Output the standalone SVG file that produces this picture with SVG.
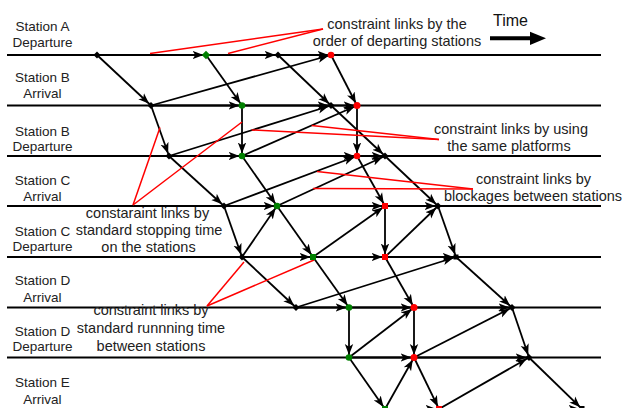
<svg xmlns="http://www.w3.org/2000/svg" width="624" height="408" viewBox="0 0 624 408">
<defs>
<style>
.st{font-family:"Liberation Sans",Arial,sans-serif;font-size:13.5px;fill:#222;text-anchor:middle}
.an{font-family:"Liberation Sans",Arial,sans-serif;font-size:14.5px;fill:#222;text-anchor:middle}
.ln{stroke:#000;stroke-width:2}
.e{stroke:#000;stroke-width:1.8;fill:none;marker-end:url(#ah)}
.r{stroke:#ff0000;stroke-width:1.5;fill:none}
.k{fill:#000}
.g{fill:#008000}
.d{fill:#ff0000}
</style>
<marker id="ah" markerUnits="userSpaceOnUse" markerWidth="14" markerHeight="10" viewBox="0 0 14 10" refX="13.5" refY="5" orient="auto">
<path d="M0,0.8 L11,5 L0,9.2 L2.8,5 z" fill="#000"/>
</marker>
</defs>
<rect width="624" height="408" fill="#fff"/>

<g id="station-lines">
<line class="ln" x1="7" y1="55" x2="601" y2="55"/>
<line class="ln" x1="7" y1="105.5" x2="601" y2="105.5"/>
<line class="ln" x1="7" y1="156" x2="601" y2="156"/>
<line class="ln" x1="7" y1="206" x2="601" y2="206"/>
<line class="ln" x1="7" y1="257" x2="601" y2="257"/>
<line class="ln" x1="7" y1="307.5" x2="601" y2="307.5"/>
<line class="ln" x1="7" y1="357.5" x2="601" y2="357.5"/>
<line class="ln" x1="7" y1="409" x2="601" y2="409"/>
</g>

<g id="station-labels">
<text class="st" x="42.5" y="30.5">Station A</text><text class="st" x="42.5" y="47.3">Departure</text>
<text class="st" x="42.5" y="81.7">Station B</text><text class="st" x="42.5" y="97.5">Arrival</text>
<text class="st" x="42.5" y="135.7">Station B</text><text class="st" x="42.5" y="151">Departure</text>
<text class="st" x="42.5" y="185">Station C</text><text class="st" x="42.5" y="200.5">Arrival</text>
<text class="st" x="42.5" y="235.5">Station C</text><text class="st" x="42.5" y="251">Departure</text>
<text class="st" x="42.5" y="285">Station D</text><text class="st" x="42.5" y="302">Arrival</text>
<text class="st" x="42.5" y="336">Station D</text><text class="st" x="42.5" y="351">Departure</text>
<text class="st" x="42.5" y="386.5">Station E</text><text class="st" x="42.5" y="403.5">Arrival</text>
</g>

<g id="connectors">
<!-- horizontal order arrows -->
<line class="e" x1="97" y1="55" x2="206" y2="55"/>
<line class="e" x1="206" y1="55" x2="278" y2="55"/>
<line class="e" x1="278" y1="55" x2="331" y2="55"/>
<line class="e" x1="151" y1="105.5" x2="242" y2="105.5"/>
<line class="e" x1="242" y1="105.5" x2="331" y2="105.5"/>
<line class="e" x1="331" y1="105.5" x2="357" y2="105.5"/>
<line class="e" x1="169" y1="156" x2="242" y2="156"/>
<line class="e" x1="242" y1="156" x2="357" y2="156"/>
<line class="e" x1="357" y1="156" x2="385" y2="156"/>
<line class="e" x1="224" y1="206" x2="277" y2="206"/>
<line class="e" x1="277" y1="206" x2="385" y2="206"/>
<line class="e" x1="385" y1="206" x2="438" y2="206"/>
<line class="e" x1="242" y1="257" x2="313" y2="257"/>
<line class="e" x1="313" y1="257" x2="385" y2="257"/>
<line class="e" x1="385" y1="257" x2="456" y2="257"/>
<line class="e" x1="296" y1="307.5" x2="349" y2="307.5"/>
<line class="e" x1="349" y1="307.5" x2="414" y2="307.5"/>
<line class="e" x1="414" y1="307.5" x2="512" y2="307.5"/>
<line class="e" x1="349" y1="357.5" x2="414" y2="357.5"/>
<line class="e" x1="414" y1="357.5" x2="529" y2="357.5"/>
<line class="e" x1="385" y1="409" x2="439" y2="409"/>
<line class="e" x1="439" y1="409" x2="582" y2="409"/>
<!-- train 1 -->
<line class="e" x1="97" y1="55" x2="151" y2="105.5"/>
<line class="e" x1="151" y1="105.5" x2="169" y2="156"/>
<line class="e" x1="169" y1="156" x2="224" y2="206"/>
<line class="e" x1="224" y1="206" x2="242" y2="257"/>
<line class="e" x1="242" y1="257" x2="296" y2="307.5"/>
<!-- train 2 -->
<line class="e" x1="206" y1="55" x2="242" y2="105.5"/>
<line class="e" x1="242" y1="105.5" x2="242" y2="156"/>
<line class="e" x1="242" y1="156" x2="277" y2="206"/>
<line class="e" x1="277" y1="206" x2="313" y2="257"/>
<line class="e" x1="313" y1="257" x2="349" y2="307.5"/>
<line class="e" x1="349" y1="307.5" x2="349" y2="357.5"/>
<line class="e" x1="349" y1="357.5" x2="385" y2="409"/>
<!-- train 3 -->
<line class="e" x1="331" y1="55" x2="357" y2="105.5"/>
<line class="e" x1="357" y1="105.5" x2="357" y2="156"/>
<line class="e" x1="357" y1="156" x2="385" y2="206"/>
<line class="e" x1="385" y1="206" x2="385" y2="257"/>
<line class="e" x1="385" y1="257" x2="414" y2="307.5"/>
<line class="e" x1="414" y1="307.5" x2="414" y2="357.5"/>
<line class="e" x1="414" y1="357.5" x2="439" y2="409"/>
<!-- train 4 -->
<line class="e" x1="278" y1="55" x2="331" y2="105.5"/>
<line class="e" x1="331" y1="105.5" x2="385" y2="156"/>
<line class="e" x1="385" y1="156" x2="438" y2="206"/>
<line class="e" x1="438" y1="206" x2="456" y2="257"/>
<line class="e" x1="456" y1="257" x2="512" y2="307.5"/>
<line class="e" x1="512" y1="307.5" x2="529" y2="357.5"/>
<line class="e" x1="529" y1="357.5" x2="582" y2="409"/>
<!-- constraint arrows -->
<line class="e" x1="151" y1="105.5" x2="331" y2="55"/>
<line class="e" x1="169" y1="156" x2="331" y2="105.5"/>
<line class="e" x1="242" y1="156" x2="357" y2="105.5"/>
<line class="e" x1="224" y1="206" x2="357" y2="156"/>
<line class="e" x1="277" y1="206" x2="385" y2="156"/>
<line class="e" x1="242" y1="257" x2="277" y2="206"/>
<line class="e" x1="313" y1="257" x2="385" y2="206"/>
<line class="e" x1="385" y1="257" x2="438" y2="206"/>
<line class="e" x1="296" y1="307.5" x2="456" y2="257"/>
<line class="e" x1="349" y1="357.5" x2="414" y2="307.5"/>
<line class="e" x1="414" y1="357.5" x2="512" y2="307.5"/>
<line class="e" x1="385" y1="409" x2="414" y2="357.5"/>
<line class="e" x1="439" y1="409" x2="529" y2="357.5"/>
<!-- red pointer lines -->
<line class="r" x1="150" y1="53.5" x2="323" y2="29"/>
<line class="r" x1="228" y1="53.5" x2="323" y2="29"/>
<line class="r" x1="251.7" y1="130" x2="439" y2="139.5"/>
<line class="r" x1="311.7" y1="125.5" x2="439" y2="139.5"/>
<line class="r" x1="317" y1="171.5" x2="473" y2="189"/>
<line class="r" x1="313" y1="188.5" x2="473" y2="189"/>
<line class="r" x1="133" y1="205" x2="160" y2="127.5"/>
<line class="r" x1="133" y1="205" x2="242" y2="122"/>
<line class="r" x1="207" y1="306" x2="244" y2="262"/>
<line class="r" x1="207" y1="306" x2="314" y2="260"/>
</g>

<g id="nodes">
<g id="n-a1"><rect class="k" x="94.5" y="52.5" width="5" height="5" transform="rotate(45 97 55)"/></g>
<g id="n-a2"><rect class="g" x="203" y="52" width="6" height="6" transform="rotate(45 206 55)"/></g>
<g id="n-a4"><rect class="k" x="275.5" y="52.5" width="5" height="5" transform="rotate(45 278 55)"/></g>
<g id="n-a3"><circle class="d" cx="331" cy="55" r="3.3"/></g>
<g id="n-ba1"><rect class="k" x="148.5" y="103" width="5" height="5" transform="rotate(45 151 105.5)"/></g>
<g id="n-ba2"><circle class="g" cx="242" cy="105.5" r="3.3"/></g>
<g id="n-ba4"><rect class="k" x="328.5" y="103" width="5" height="5" transform="rotate(45 331 105.5)"/></g>
<g id="n-ba3"><circle class="d" cx="357" cy="105.5" r="3.5"/></g>
<g id="n-bd1"><rect class="k" x="166.5" y="153.5" width="5" height="5" transform="rotate(45 169 156)"/></g>
<g id="n-bd2"><circle class="g" cx="242" cy="156" r="3.3"/></g>
<g id="n-bd3"><circle class="d" cx="357" cy="156" r="3.3"/></g>
<g id="n-bd4"><rect class="k" x="382.5" y="153.5" width="5" height="5" transform="rotate(45 385 156)"/></g>
<g id="n-ca1"><rect class="k" x="221.5" y="203.5" width="5" height="5" transform="rotate(45 224 206)"/></g>
<g id="n-ca2"><circle class="g" cx="277" cy="206" r="3.3"/></g>
<g id="n-ca3"><rect class="d" x="382" y="203" width="6" height="6"/></g>
<g id="n-ca4"><rect class="k" x="435.5" y="203.5" width="5" height="5" transform="rotate(45 438 206)"/></g>
<g id="n-cd1"><rect class="k" x="239.5" y="254.5" width="5" height="5" transform="rotate(45 242 257)"/></g>
<g id="n-cd2"><rect class="g" x="310" y="254" width="6" height="6"/></g>
<g id="n-cd3"><rect class="d" x="382" y="254" width="6" height="6"/></g>
<g id="n-cd4"><rect class="k" x="453.5" y="254.5" width="5" height="5"/></g>
<g id="n-da1"><rect class="k" x="293.5" y="305" width="5" height="5" transform="rotate(45 296 307.5)"/></g>
<g id="n-da2"><circle class="g" cx="349" cy="307.5" r="3.3"/></g>
<g id="n-da3"><circle class="d" cx="414" cy="307.5" r="3.5"/></g>
<g id="n-da4"><rect class="k" x="509.5" y="305" width="5" height="5" transform="rotate(45 512 307.5)"/></g>
<g id="n-dd2"><circle class="g" cx="349" cy="357.5" r="3.3"/></g>
<g id="n-dd3"><circle class="d" cx="414" cy="357.5" r="3.5"/></g>
<g id="n-dd4"><rect class="k" x="526.5" y="355" width="5" height="5" transform="rotate(45 529 357.5)"/></g>
<g id="n-ea2"><rect class="g" x="382" y="406" width="6" height="6"/></g>
<g id="n-ea3"><rect class="d" x="436" y="406" width="6" height="6"/></g>
<g id="n-ea4"><rect class="k" x="579.5" y="406" width="5" height="5"/></g>
</g>

<g id="annotations">
<text class="an" x="397" y="29">constraint links by the</text>
<text class="an" x="397" y="46">order of departing stations</text>
<text class="an" x="511" y="134">constraint links by using</text>
<text class="an" x="509" y="150.5">the same platforms</text>
<text class="an" x="533.5" y="183.5">constraint links by</text>
<text class="an" x="533" y="200.5">blockages between stations</text>
<text class="an" x="147.5" y="217.5">constaraint links by</text>
<text class="an" x="149" y="235">standard stopping time</text>
<text class="an" x="148.5" y="251.5">on the stations</text>
<text class="an" x="151" y="315">constraint links by</text>
<text class="an" x="151" y="333">standard runnning time</text>
<text class="an" x="151" y="351">between stations</text>
</g>

<g id="time-axis">
<text x="493" y="26" style="font-family:'Liberation Sans',Arial,sans-serif;font-size:16px;fill:#111">Time</text>
<line x1="490" y1="38.3" x2="531" y2="38.3" stroke="#000" stroke-width="4"/>
<polygon points="530,31.7 546,38.3 530,45" fill="#000"/>
</g>
</svg>
